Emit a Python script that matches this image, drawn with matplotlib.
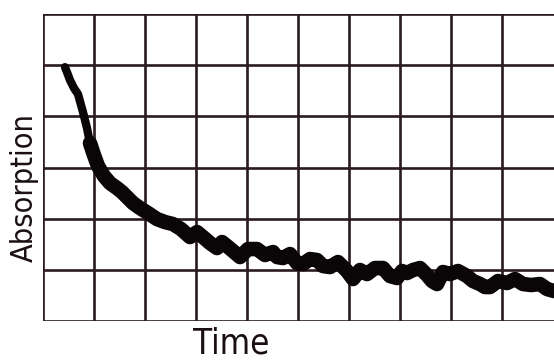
import matplotlib
matplotlib.use("Agg")
import matplotlib.pyplot as plt
import numpy as np

# curve (pixel positions of the trace centre)
px = [65, 67, 70, 74, 78, 83, 87, 90, 94, 98, 104, 110, 117, 122, 127, 133, 140,
      148, 157, 165, 173, 181, 190, 197, 203, 210, 217, 222, 227, 233, 240, 248, 257,
      265, 273, 277, 283, 290, 297, 303, 310, 317, 323, 330, 338, 347, 353, 360, 367,
      375, 383, 390, 397, 402, 407, 413, 420, 427, 432, 437, 443, 450, 458, 467, 473,
      480, 485, 490, 498, 507, 515, 523, 531, 540, 547, 554]
py = [67, 72, 80, 88, 94, 112, 128, 143, 155, 166, 176, 183, 188, 192, 197, 203, 208,
      213, 219, 222, 224, 229, 237, 232, 237, 243, 248, 242, 246, 251, 257, 249, 249,
      255, 252, 257, 258, 254, 263, 264, 259, 260, 266, 267, 262, 271, 279, 270, 274,
      268, 268, 276, 278, 271, 273, 270, 268, 275, 281, 284, 272, 274, 271, 276, 281,
      284, 287, 287, 281, 283, 279, 284, 285, 284, 289, 291]

time = [(p - 43) / 51.0 for p in px]
absorption = [(321 - p) / 51.2 for p in py]

n_cols = 10
n_rows = 6
xlabel = "Time"
ylabel = "Absorption"

W, H = 554, 360
fig = plt.figure(figsize=(W / 100, H / 100), dpi=100)
fig.patch.set_facecolor("white")
left = 43 / W
bottom = (H - 321) / H
top = (H - 14) / H
ax = fig.add_axes([left, bottom, 1.0 - left, top - bottom])
ax.set_xlim(0, (W - 43) / 51.0)
ax.set_ylim(0, n_rows)
ax.axis("off")

gc = "#2b1a1f"
for i in range(n_cols):
    ax.axvline(i, color=gc, lw=1.9, zorder=1)
for j in range(n_rows + 1):
    ax.axhline(j, color=gc, lw=1.9, zorder=1)

t = np.array(time)
a = np.array(absorption)
k = 8
ax.plot(t[:k], a[:k], color="#0a0506", lw=6, solid_capstyle="round",
        solid_joinstyle="round", zorder=3)
ax.plot(t[k - 1:], a[k - 1:], color="#0a0506", lw=10.5, solid_capstyle="round",
        solid_joinstyle="round", zorder=3)

fig.text(231 / W, 1 - 344 / H, xlabel, ha="center", va="center",
         fontsize=25, color="#1a0f12", family="DejaVu Sans", fontstretch="condensed")
fig.text(24 / W, 1 - 188 / H, ylabel, ha="center", va="center", rotation=90,
         fontsize=22, color="#1a0f12", family="DejaVu Sans", fontstretch="condensed")

fig.savefig("out.png", dpi=100, facecolor="white")
